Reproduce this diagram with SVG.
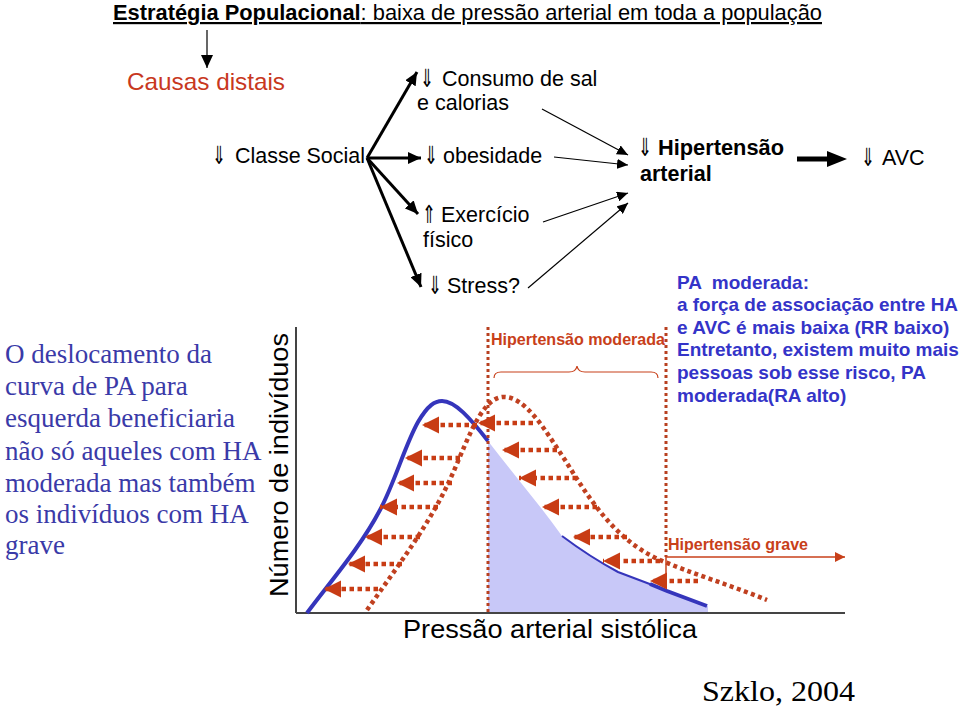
<svg xmlns="http://www.w3.org/2000/svg" width="960" height="710" viewBox="0 0 960 710">
<style>
.lbl{font-family:"Liberation Sans",Arial,sans-serif;font-size:21.5px;fill:#000}
.arr{font-family:"DejaVu Sans Condensed","DejaVu Sans",sans-serif;font-size:25px;fill:#000}
.bold{font-weight:bold}
.blueR{font-family:"Liberation Sans",Arial,sans-serif;font-size:19px;font-weight:bold;fill:#3434c8}
.blueL{font-family:"Liberation Serif","Times New Roman",serif;font-size:27px;fill:#3a3aa8}
.red{font-family:"Liberation Sans",Arial,sans-serif;font-size:16px;font-weight:bold;fill:#c8401a}
.thick{stroke:#000;stroke-width:3;fill:none}
.thin{stroke:#000;stroke-width:1.2;fill:none}
.dot{stroke:#c04020;stroke-width:4.5;stroke-dasharray:4 3.5;fill:none}
.vdot{stroke:#b84020;stroke-width:3;stroke-dasharray:3 3;fill:none}
.rarr{stroke:#c83c14;stroke-width:4.5;stroke-dasharray:4.5 3.5;fill:none}
</style>
<defs>
<marker id="hb" markerUnits="userSpaceOnUse" markerWidth="14" markerHeight="12" refX="13" refY="6" orient="auto"><path d="M0,0 L13,6 L0,12 z" fill="#000"/></marker>
<marker id="ht" markerUnits="userSpaceOnUse" markerWidth="12" markerHeight="10" refX="11" refY="5" orient="auto"><path d="M0,0 L11,5 L0,10 z" fill="#000"/></marker>
<marker id="hr" markerUnits="userSpaceOnUse" markerWidth="18" markerHeight="18" refX="17" refY="8.5" orient="auto"><path d="M0,0 L17,8.5 L0,17 z" fill="#c83c14"/></marker>
<marker id="hg" markerUnits="userSpaceOnUse" markerWidth="11" markerHeight="11" refX="10" refY="5" orient="auto"><path d="M0,0 L10,5 L0,10 z" fill="#c8401a"/></marker>
</defs>
<rect width="960" height="710" fill="#fff"/>

<g id="title">
<text x="113" y="20" font-family="Liberation Sans,Arial,sans-serif" font-size="22" text-decoration="underline" textLength="709" lengthAdjust="spacingAndGlyphs"><tspan font-weight="bold">Estratégia Populacional</tspan>: baixa de pressão arterial em toda a população</text>
</g>

<g id="causas-distais">
<text x="127" y="90" font-family="Liberation Sans,Arial,sans-serif" font-size="24" fill="#c8381e" textLength="158" lengthAdjust="spacingAndGlyphs">Causas distais</text>
</g>

<g id="classe-social">
<text class="arr" x="212" y="164" textLength="14" lengthAdjust="spacingAndGlyphs">⇓</text>
<text class="lbl" x="235" y="163" textLength="130" lengthAdjust="spacingAndGlyphs">Classe Social</text>
</g>

<g id="consumo">
<text class="arr" x="420" y="87" textLength="14" lengthAdjust="spacingAndGlyphs">⇓</text>
<text class="lbl" x="442" y="86">Consumo de sal</text>
<text class="lbl" x="417" y="110">e calorias</text>
</g>

<g id="obesidade">
<text class="arr" x="424" y="164" textLength="14" lengthAdjust="spacingAndGlyphs">⇓</text>
<text class="lbl" x="443" y="163">obesidade</text>
</g>

<g id="exercicio">
<text class="arr" x="422" y="223" textLength="14" lengthAdjust="spacingAndGlyphs">⇑</text>
<text class="lbl" x="441" y="222">Exercício</text>
<text class="lbl" x="423" y="247">físico</text>
</g>

<g id="stress">
<text class="arr" x="428" y="294" textLength="14" lengthAdjust="spacingAndGlyphs">⇓</text>
<text class="lbl" x="447" y="293">Stress?</text>
</g>

<g id="hipertensao">
<text class="arr" x="638" y="156" textLength="14" lengthAdjust="spacingAndGlyphs">⇓</text>
<text class="lbl bold" x="658" y="155" textLength="126" lengthAdjust="spacingAndGlyphs">Hipertensão</text>
<text class="lbl bold" x="640" y="181">arterial</text>
</g>

<g id="avc">
<text class="arr" x="861" y="166" textLength="14" lengthAdjust="spacingAndGlyphs">⇓</text>
<text class="lbl" x="882" y="165">AVC</text>
</g>

<g id="connectors">
<line x1="207" y1="30" x2="207" y2="68" stroke="#000" stroke-width="1.2" marker-end="url(#hb)"/>
<line class="thick" x1="367" y1="158" x2="417" y2="72" marker-end="url(#hb)"/>
<line class="thick" x1="367" y1="158" x2="421" y2="158" marker-end="url(#hb)"/>
<line class="thick" x1="367" y1="158" x2="418" y2="214" marker-end="url(#hb)"/>
<line class="thick" x1="367" y1="158" x2="421" y2="287" marker-end="url(#hb)"/>
<line class="thin" x1="542" y1="109" x2="628" y2="155" marker-end="url(#ht)"/>
<line class="thin" x1="554" y1="157" x2="628" y2="165" marker-end="url(#ht)"/>
<line class="thin" x1="543" y1="222" x2="628" y2="193" marker-end="url(#ht)"/>
<line class="thin" x1="528" y1="288" x2="628" y2="203" marker-end="url(#ht)"/>
<line x1="797" y1="159" x2="829" y2="159" stroke="#000" stroke-width="5"/>
<path d="M827,151 L847,159 L827,167 z" fill="#000"/>
</g>

<g id="texto-esquerda">
<text class="blueL" x="5" y="363">O deslocamento da</text>
<text class="blueL" x="5" y="395">curva de PA para</text>
<text class="blueL" x="5" y="427">esquerda beneficiaria</text>
<text class="blueL" x="5" y="460">não só aqueles com HA</text>
<text class="blueL" x="5" y="492">moderada mas também</text>
<text class="blueL" x="5" y="523">os indivíduos com HA</text>
<text class="blueL" x="5" y="554">grave</text>
</g>

<g id="texto-direita">
<text class="blueR" x="677" y="289" xml:space="preserve">PA  moderada:</text>
<text class="blueR" x="677" y="311" textLength="281" lengthAdjust="spacingAndGlyphs">a força de associação entre HA</text>
<text class="blueR" x="677" y="334">e AVC é mais baixa (RR baixo)</text>
<text class="blueR" x="677" y="356">Entretanto, existem muito mais</text>
<text class="blueR" x="677" y="379">pessoas sob esse risco, PA</text>
<text class="blueR" x="677" y="402">moderada(RA alto)</text>
</g>

<g id="grafico">
<path d="M488,441 C515,476 540,505 562,536 Q590,557 618,572 L667,591 L708,606 L708,613 L488,613 Z" fill="#c8c8f8"/>
<line x1="296" y1="327" x2="296" y2="613" stroke="#444" stroke-width="2"/>
<line x1="296" y1="613" x2="845" y2="613" stroke="#444" stroke-width="2"/>
<path d="M307,613 C330,582 360,548 380,510 C395,482 405,445 418,422 C428,405 435,401 442,401 C455,401 470,418 488,441" stroke="#3535bb" stroke-width="4" fill="none"/>
<path d="M562,536 Q590,557 618,572 L655,586" stroke="#3535bb" stroke-width="2" fill="none"/>
<path d="M650,584 L667,591 L707,606" stroke="#3535bb" stroke-width="4" fill="none"/>
<path class="dot" d="M367,610 C395,570 425,530 445,490 C465,450 478,400 502,397 C525,395 545,430 565,460 C590,500 615,540 660,560 C690,573 730,585 767,600"/>
<line class="vdot" x1="488" y1="327" x2="488" y2="613"/>
<line class="vdot" x1="666" y1="327" x2="666" y2="557"/>
<line x1="666" y1="557" x2="666" y2="588" stroke="#c8401a" stroke-width="1.5"/>
<path d="M494,378 Q494,372 501,372 L569,372 Q576,372 577,366 Q578,372 585,372 L651,372 Q658,372 658,378" stroke="#c8401a" stroke-width="1.2" fill="none"/>
<line x1="666" y1="557" x2="845" y2="557" stroke="#c8401a" stroke-width="1.5" marker-end="url(#hg)"/>
</g>

<g id="setas-deslocamento">
<line class="rarr" x1="477" y1="425" x2="422" y2="425" marker-end="url(#hr)"/>
<line class="rarr" x1="460" y1="458" x2="405" y2="458" marker-end="url(#hr)"/>
<line class="rarr" x1="452" y1="483" x2="397" y2="483" marker-end="url(#hr)"/>
<line class="rarr" x1="438" y1="507" x2="380" y2="507" marker-end="url(#hr)"/>
<line class="rarr" x1="420" y1="537" x2="365" y2="537" marker-end="url(#hr)"/>
<line class="rarr" x1="402" y1="564" x2="348" y2="564" marker-end="url(#hr)"/>
<line class="rarr" x1="378" y1="589" x2="324" y2="589" marker-end="url(#hr)"/>
<line class="rarr" x1="533" y1="423" x2="478" y2="423" marker-end="url(#hr)"/>
<line class="rarr" x1="557" y1="450" x2="502" y2="450" marker-end="url(#hr)"/>
<line class="rarr" x1="577" y1="478" x2="519" y2="478" marker-end="url(#hr)"/>
<line class="rarr" x1="597" y1="507" x2="542" y2="507" marker-end="url(#hr)"/>
<line class="rarr" x1="627" y1="537" x2="573" y2="537" marker-end="url(#hr)"/>
<line class="rarr" x1="660" y1="561" x2="603" y2="561" marker-end="url(#hr)"/>
<line class="rarr" x1="698" y1="581" x2="650" y2="581" marker-end="url(#hr)"/>
</g>

<g id="rotulos-grafico">
<text class="red" x="491" y="345" textLength="174" lengthAdjust="spacingAndGlyphs">Hipertensão moderada</text>
<text class="red" x="668" y="550" textLength="140" lengthAdjust="spacingAndGlyphs">Hipertensão grave</text>
<text x="288" y="597" transform="rotate(-90 288 597)" font-family="Liberation Sans,Arial,sans-serif" font-size="25" textLength="264" lengthAdjust="spacingAndGlyphs">Número de indivíduos</text>
<text x="403" y="638" font-family="Liberation Sans,Arial,sans-serif" font-size="25" textLength="294" lengthAdjust="spacingAndGlyphs">Pressão arterial sistólica</text>
<text x="702" y="701" font-family="Liberation Serif,Times New Roman,serif" font-size="30" textLength="153" lengthAdjust="spacingAndGlyphs">Szklo, 2004</text>
</g>
</svg>
